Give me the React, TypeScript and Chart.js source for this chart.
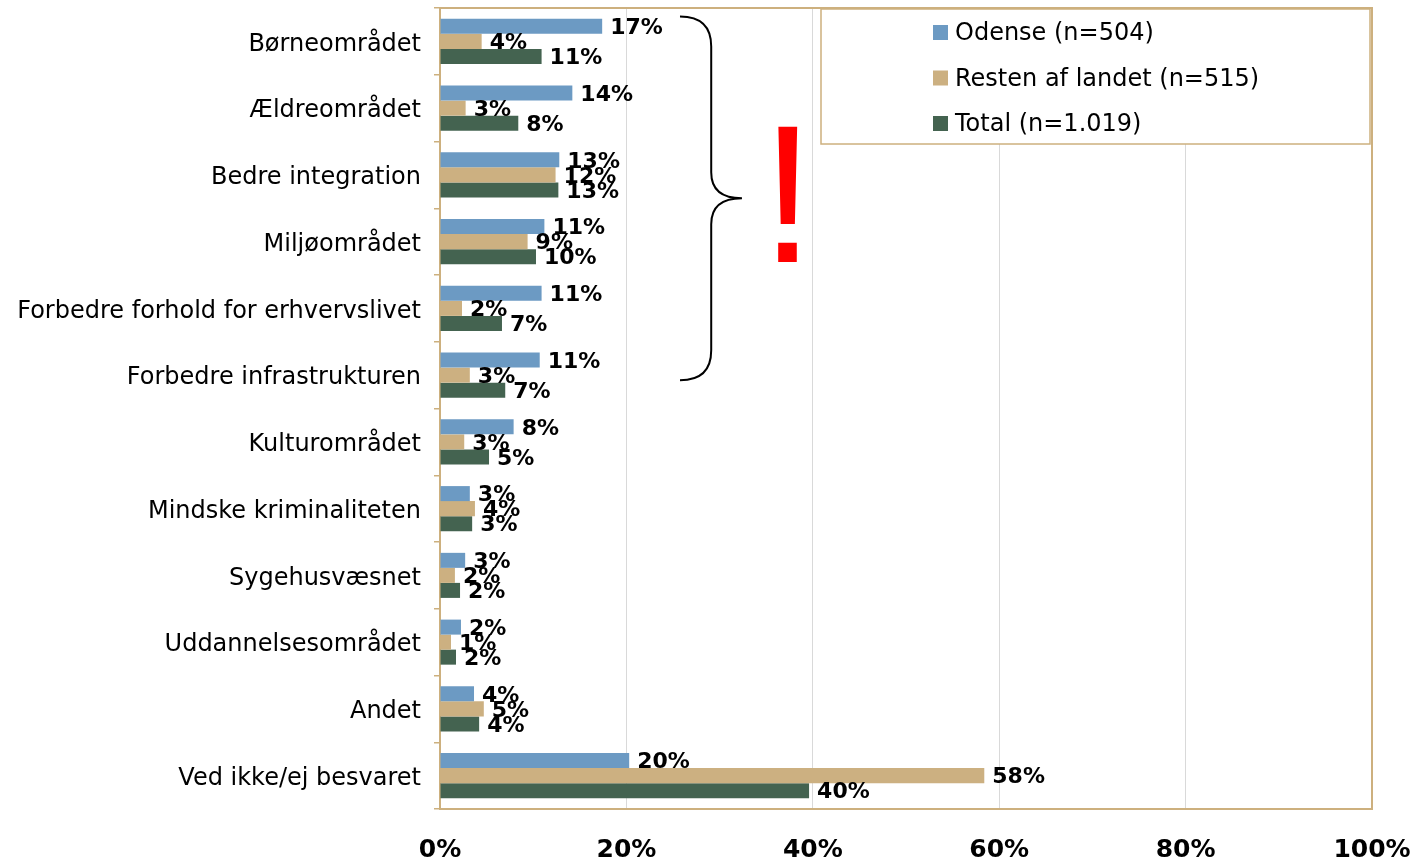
import React, { useEffect, useRef } from "react";
import { Chart, registerables } from "chart.js";

Chart.register(...registerables);

const categories = [
  "Børneområdet",
  "Ældreområdet",
  "Bedre integration",
  "Miljøområdet",
  "Forbedre forhold for erhvervslivet",
  "Forbedre infrastrukturen",
  "Kulturområdet",
  "Mindske kriminaliteten",
  "Sygehusvæsnet",
  "Uddannelsesområdet",
  "Andet",
  "Ved ikke/ej besvaret",
];
const odense = [17.4, 14.2, 12.8, 11.2, 10.9, 10.7, 7.9, 3.2, 2.7, 2.25, 3.65, 20.3];
const resten = [4.47, 2.75, 12.4, 9.4, 2.36, 3.2, 2.6, 3.75, 1.6, 1.18, 4.7, 58.4];
const total = [10.9, 8.4, 12.7, 10.3, 6.65, 7.0, 5.26, 3.45, 2.15, 1.72, 4.2, 39.6];
const seriesNames = ["Odense (n=504)", "Resten af landet (n=515)", "Total (n=1.019)"];
const seriesColors = ["#6C9AC3", "#CCB081", "#446350"];
const xTicks = [0, 20, 40, 60, 80, 100];

const FONT = "DejaVu Sans";
const TAN = "#CDB07E";

const framePlugin = {
  id: "frame",
  beforeDatasetsDraw(chart: any) {
    const { ctx, chartArea: a } = chart;
    ctx.save();
    ctx.strokeStyle = TAN;
    ctx.lineWidth = 2;
    ctx.beginPath();
    ctx.moveTo(a.left, a.top);
    ctx.lineTo(a.right, a.top);
    ctx.lineTo(a.right, a.bottom);
    ctx.stroke();
    ctx.restore();
  },
};

const labelPlugin = {
  id: "barLabels",
  afterDatasetsDraw(chart: any) {
    const { ctx } = chart;
    ctx.save();
    ctx.font = `bold 22px "${FONT}"`;
    ctx.fillStyle = "#000";
    ctx.textAlign = "left";
    ctx.textBaseline = "middle";
    chart.data.datasets.forEach((ds: any, i: number) => {
      const meta = chart.getDatasetMeta(i);
      meta.data.forEach((bar: any, j: number) => {
        ctx.fillText(Math.round(ds.data[j]) + "%", bar.x + 8, bar.y + 2);
      });
    });
    ctx.restore();
  },
};

const overlayPlugin = {
  id: "overlay",
  afterDraw(chart: any) {
    const { ctx, chartArea: a, scales } = chart;
    const xs = scales.x;
    const ys = scales.y;
    ctx.save();
    // legend box
    const lw = 549;
    const lh = 135;
    const lx = a.right - 2 - lw;
    const ly = a.top + 1;
    ctx.fillStyle = "#fff";
    ctx.fillRect(lx, ly, lw, lh);
    ctx.strokeStyle = TAN;
    ctx.lineWidth = 1.5;
    ctx.strokeRect(lx, ly, lw, lh);
    ctx.font = `24px "${FONT}"`;
    ctx.textBaseline = "middle";
    ctx.textAlign = "left";
    chart.data.datasets.forEach((ds: any, i: number) => {
      const cy = ly + 23 + i * 45.5;
      ctx.fillStyle = ds.backgroundColor;
      ctx.fillRect(lx + 112, cy - 7, 15, 15);
      ctx.fillStyle = "#000";
      ctx.fillText(ds.label, lx + 134, cy + 2);
    });

    // brace
    const x0 = xs.getPixelForValue(25.75);
    const xm = xs.getPixelForValue(29.1);
    const xt = xs.getPixelForValue(32.4);
    const top = ys.getPixelForValue(0) - 25;
    const bot = ys.getPixelForValue(5) + 5;
    const mid = (top + bot) / 2;
    const r1 = 30;
    const r2 = 26;
    ctx.strokeStyle = "#000";
    ctx.lineWidth = 2;
    ctx.beginPath();
    ctx.moveTo(x0, top);
    ctx.quadraticCurveTo(xm, top, xm, top + r1);
    ctx.lineTo(xm, mid - r2);
    ctx.quadraticCurveTo(xm, mid, xt, mid);
    ctx.quadraticCurveTo(xm, mid, xm, mid + r2);
    ctx.lineTo(xm, bot - r1);
    ctx.quadraticCurveTo(xm, bot, x0, bot);
    ctx.stroke();

    // exclamation mark
    ctx.fillStyle = "#FF0000";
    ctx.font = `196px "Liberation Sans"`;
    ctx.textAlign = "center";
    ctx.textBaseline = "alphabetic";
    ctx.fillText("!", xs.getPixelForValue(37.3), ys.getPixelForValue(3) + 20);
    ctx.restore();
  },
};

export default function App() {
  const ref = useRef<HTMLCanvasElement | null>(null);
  useEffect(() => {
    if (!ref.current) return;
    const chart = new Chart(ref.current, {
      type: "bar",
      data: {
        labels: categories,
        datasets: [odense, resten, total].map((d, i) => ({
          label: seriesNames[i],
          data: d,
          backgroundColor: seriesColors[i],
          borderWidth: 0,
          barPercentage: 1,
          categoryPercentage: 0.675,
        })),
      },
      options: {
        indexAxis: "y",
        responsive: false,
        animation: false,
        layout: { padding: { top: 8, right: 48, left: 0, bottom: 0 } },
        plugins: { legend: { display: false }, tooltip: { enabled: false } },
        scales: {
          x: {
            min: 0,
            max: 100,
            afterBuildTicks: (s: any) => {
              s.ticks = xTicks.map((v) => ({ value: v }));
            },
            afterFit: (s: any) => {
              s.height = 52;
              s.paddingLeft = 0;
              s.paddingRight = 0;
              s.paddingTop = 0;
              s.paddingBottom = 0;
            },
            ticks: {
              callback: (v: any) => v + "%",
              color: "#000",
              font: { family: FONT, size: 25, weight: "bold" },
              padding: 26,
              maxRotation: 0,
            },
            grid: { color: "#D9D9D9", drawTicks: false, lineWidth: 1 },
            border: { color: TAN, width: 2 },
          },
          y: {
            afterFit: (s: any) => {
              s.width = 440;
              s.paddingLeft = 0;
              s.paddingRight = 0;
              s.paddingTop = 0;
              s.paddingBottom = 0;
            },
            ticks: {
              color: "#000",
              font: { family: FONT, size: 24 },
              padding: 13,
              labelOffset: 3,
            },
            grid: {
              drawOnChartArea: false,
              drawTicks: true,
              tickLength: 6,
              color: TAN,
              offset: true,
              lineWidth: 1.5,
            },
            border: { color: TAN, width: 2 },
          },
        },
      },
      plugins: [framePlugin, labelPlugin, overlayPlugin],
    } as any);
    return () => chart.destroy();
  }, []);
  return (
    <div style={{ position: "absolute", left: 0, top: 0, width: 1420, height: 861, background: "#fff" }}>
      <canvas ref={ref} width={1420} height={861} style={{ width: 1420, height: 861 }} />
    </div>
  );
}
